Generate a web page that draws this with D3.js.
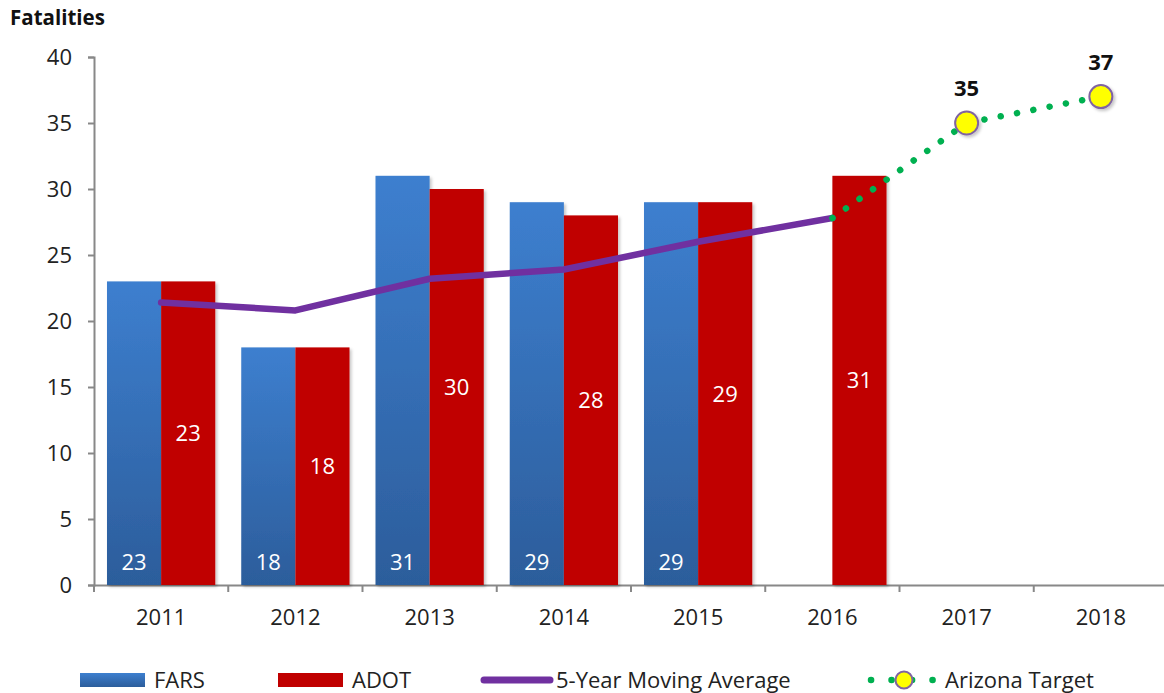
<!DOCTYPE html>
<html>
<head>
<meta charset="utf-8">
<script src="https://cdn.jsdelivr.net/npm/d3@7"></script>
<style>
  html, body { margin: 0; padding: 0; background: #fff; }
  svg text { font-family: "Open Sans", Lato, sans-serif; }
</style>
</head>
<body>
<div id="chart"></div>
<script>
// data
const years = ["2011", "2012", "2013", "2014", "2015", "2016", "2017", "2018"];
const fars = [23, 18, 31, 29, 29, null, null, null];
const adot = [23, 18, 30, 28, 29, 31, null, null];
const movingAvg = [21.4, 20.8, 23.2, 23.9, 26.0, 27.8, null, null];
const targetYears = ["2016", "2017", "2018"];
const targetVals = [27.8, 35, 37];
const targetMarkers = [false, true, true];
const yTicks = [0, 5, 10, 15, 20, 25, 30, 35, 40];

const W = 1164, H = 693;
const m = { t: 57, r: -4, b: 108, l: 94 };
const FS = 22;
const svg = d3.select("#chart").append("svg").attr("width", W).attr("height", H);

const defs = svg.append("defs");
const grad = defs.append("linearGradient").attr("id", "farsGrad")
  .attr("x1", 0).attr("y1", 0).attr("x2", 0).attr("y2", 1);
grad.append("stop").attr("offset", "0%").attr("stop-color", "#3d7fcf");
grad.append("stop").attr("offset", "100%").attr("stop-color", "#2c5d9b");
const sh = defs.append("filter").attr("id", "shadow").attr("x", "-20%").attr("y", "-20%")
  .attr("width", "150%").attr("height", "150%");
sh.append("feDropShadow").attr("dx", 2).attr("dy", 2).attr("stdDeviation", 1.5)
  .attr("flood-color", "#000").attr("flood-opacity", 0.22);

const x = d3.scaleBand().domain(years).range([m.l, W - m.r]).paddingInner(0).paddingOuter(0);
const y = d3.scaleLinear().domain([0, 40]).range([H - m.b, m.t]);
const inner = d3.scaleBand().domain(["fars", "adot"]).range([0, x.bandwidth()]).paddingOuter(0.24).paddingInner(0);

// axes
const yAxis = svg.append("g").attr("transform", `translate(${m.l},0)`)
  .call(d3.axisLeft(y).tickValues(yTicks).tickSize(6).tickPadding(16));
const xAxis = svg.append("g").attr("transform", `translate(0,${y(0)})`)
  .call(d3.axisBottom(x).tickSize(0).tickPadding(24));
[yAxis, xAxis].forEach(g => {
  g.select(".domain").attr("stroke", "#888").attr("stroke-width", 2);
  g.selectAll(".tick line").attr("stroke", "#888").attr("stroke-width", 2);
  g.selectAll("text").attr("font-size", FS).attr("fill", "#222");
});
// category ticks between bands
xAxis.selectAll(".sep").data(years).join("line").attr("class", "sep")
  .attr("x1", d => x(d)).attr("x2", d => x(d)).attr("y1", 0).attr("y2", 7)
  .attr("stroke", "#888").attr("stroke-width", 2);

svg.append("text").attr("x", 10).attr("y", 25).attr("font-size", 20.5)
  .attr("font-weight", "bold").attr("fill", "#111").text("Fatalities");

// bars
const bars = svg.append("g");
bars.selectAll(".fars").data(years.filter((d, i) => fars[i] != null)).join("rect")
  .attr("x", d => x(d) + inner("fars")).attr("width", inner.bandwidth())
  .attr("y", d => y(fars[years.indexOf(d)])).attr("height", d => y(0) - y(fars[years.indexOf(d)]))
  .attr("fill", "url(#farsGrad)").attr("filter", "url(#shadow)");
bars.selectAll(".adot").data(years.filter((d, i) => adot[i] != null)).join("rect")
  .attr("x", d => x(d) + inner("adot")).attr("width", inner.bandwidth())
  .attr("y", d => y(adot[years.indexOf(d)])).attr("height", d => y(0) - y(adot[years.indexOf(d)]))
  .attr("fill", "#c00000").attr("filter", "url(#shadow)");

// bar labels
bars.selectAll(".fl").data(years.filter((d, i) => fars[i] != null)).join("text")
  .attr("x", d => x(d) + inner("fars") + inner.bandwidth() / 2).attr("y", y(0) - 15)
  .attr("text-anchor", "middle").attr("font-size", FS).attr("fill", "#fff")
  .text(d => fars[years.indexOf(d)]);
bars.selectAll(".al").data(years.filter((d, i) => adot[i] != null)).join("text")
  .attr("x", d => x(d) + inner("adot") + inner.bandwidth() / 2)
  .attr("y", d => (y(0) + y(adot[years.indexOf(d)])) / 2 + 8)
  .attr("text-anchor", "middle").attr("font-size", FS).attr("fill", "#fff")
  .text(d => adot[years.indexOf(d)]);

const cx = d => x(d) + x.bandwidth() / 2;

// moving average
const maPts = years.map((d, i) => [d, movingAvg[i]]).filter(p => p[1] != null);
svg.append("path").datum(maPts)
  .attr("d", d3.line().x(p => cx(p[0])).y(p => y(p[1])))
  .attr("fill", "none").attr("stroke", "#7030a0").attr("stroke-width", 6.5)
  .attr("stroke-linecap", "round").attr("stroke-linejoin", "round");

// target
const tPts = targetYears.map((d, i) => [d, targetVals[i], targetMarkers[i]]);
svg.append("path").datum(tPts)
  .attr("d", d3.line().x(p => cx(p[0])).y(p => y(p[1])))
  .attr("fill", "none").attr("stroke", "#00b050").attr("stroke-width", 6.5)
  .attr("stroke-linecap", "round").attr("stroke-dasharray", "0.1,16.5");
const mk = svg.append("g").selectAll("g").data(tPts.filter(p => p[2])).join("g");
mk.append("circle").attr("cx", p => cx(p[0])).attr("cy", p => y(p[1])).attr("r", 11.5)
  .attr("fill", "#ffff00").attr("stroke", "#8064a2").attr("stroke-width", 2)
  .attr("filter", "url(#shadow)");
mk.append("text").attr("x", p => cx(p[0])).attr("y", p => y(p[1]) - 27)
  .attr("text-anchor", "middle").attr("font-size", FS).attr("font-weight", "bold")
  .attr("fill", "#111").text(p => p[1]);

// legend
const lg = svg.append("g").attr("transform", `translate(0,680)`);
lg.append("rect").attr("x", 80).attr("y", -7).attr("width", 65).attr("height", 14).attr("fill", "url(#farsGrad)");
lg.append("text").attr("x", 154).attr("y", 8).attr("font-size", FS).attr("fill", "#222").text("FARS");
lg.append("rect").attr("x", 278).attr("y", -7).attr("width", 65).attr("height", 14).attr("fill", "#c00000");
lg.append("text").attr("x", 352).attr("y", 8).attr("font-size", FS).attr("fill", "#222").text("ADOT");
lg.append("line").attr("x1", 484).attr("x2", 550).attr("y1", 0).attr("y2", 0)
  .attr("stroke", "#7030a0").attr("stroke-width", 7).attr("stroke-linecap", "round");
lg.append("text").attr("x", 556).attr("y", 8).attr("font-size", FS).attr("fill", "#222").text("5-Year Moving Average");
lg.append("line").attr("x1", 871).attr("x2", 934).attr("y1", 0).attr("y2", 0)
  .attr("stroke", "#00b050").attr("stroke-width", 6.5).attr("stroke-linecap", "round")
  .attr("stroke-dasharray", "0.1,20.4");
lg.append("circle").attr("cx", 904).attr("cy", 0).attr("r", 8.5)
  .attr("fill", "#ffff00").attr("stroke", "#8064a2").attr("stroke-width", 2);
lg.append("text").attr("x", 945).attr("y", 8).attr("font-size", FS).attr("fill", "#222").text("Arizona Target");
</script>
</body>
</html>
